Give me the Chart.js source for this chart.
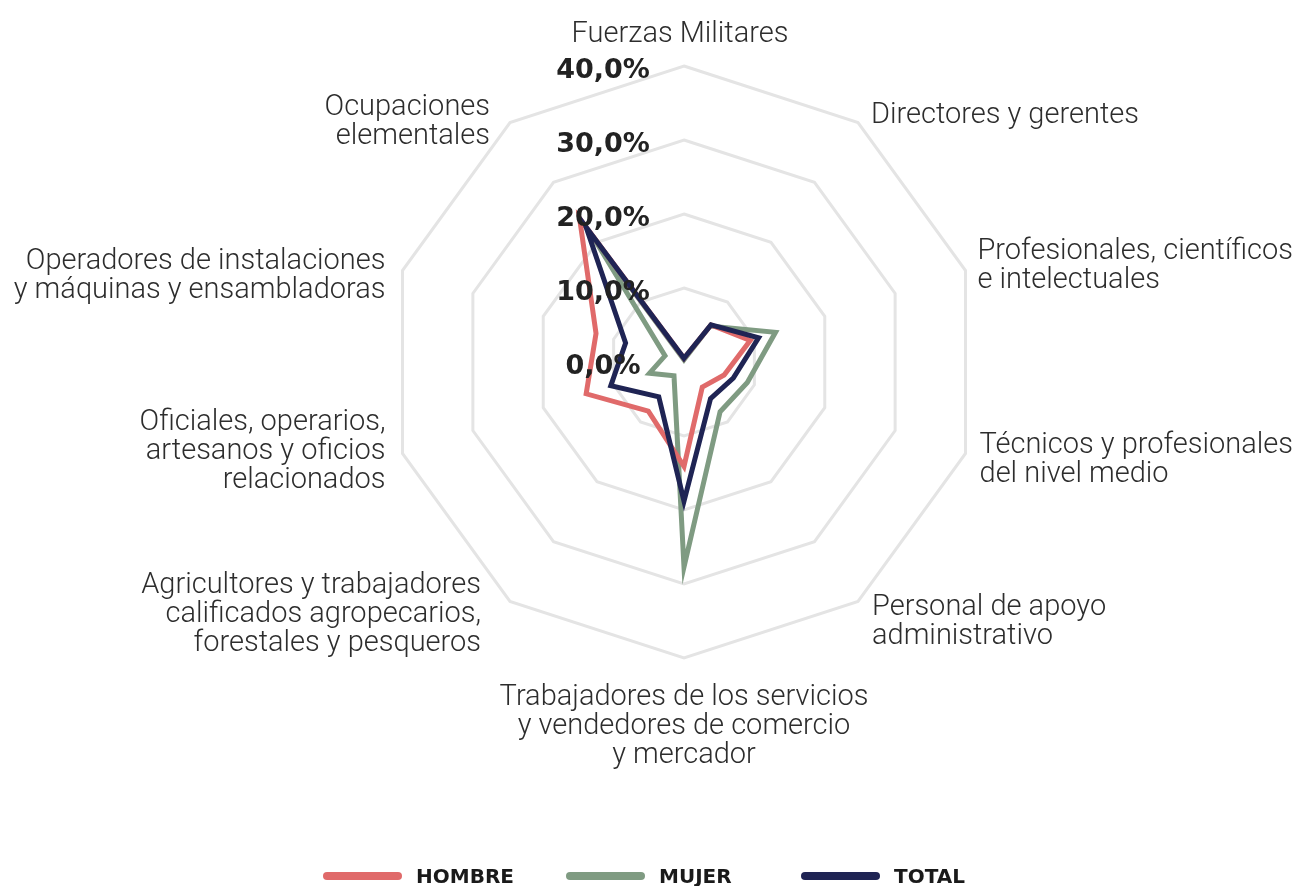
<!DOCTYPE html>
<html>
<head>
<meta charset="utf-8">
<script src="https://cdn.jsdelivr.net/npm/chart.js@4.4.1/dist/chart.umd.min.js"></script>
<style>
  html, body { margin: 0; padding: 0; background: #ffffff; }
  #wrap { width: 1299px; height: 886px; position: relative; }
</style>
</head>
<body>
<div id="wrap"><canvas id="chart" width="1299" height="886"></canvas></div>
<script>
// ---- data ----
const categories = [
  ['Fuerzas Militares'],
  ['Directores y gerentes'],
  ['Profesionales, científicos', 'e intelectuales'],
  ['Técnicos y profesionales', 'del nivel medio'],
  ['Personal de apoyo', 'administrativo'],
  ['Trabajadores de los servicios', 'y vendedores de comercio', 'y mercador'],
  ['Agricultores y trabajadores', 'calificados agropecarios,', 'forestales y pesqueros'],
  ['Oficiales, operarios,', 'artesanos y oficios', 'relacionados'],
  ['Operadores de instalaciones', 'y máquinas y ensambladoras'],
  ['Ocupaciones', 'elementales']
];
const seriesNames = ['HOMBRE', 'MUJER', 'TOTAL'];
const hombre = [0.5, 6.2, 9.4, 5.7, 4.2, 14.1, 8.2, 13.9, 12.5, 24.0];
const mujer  = [0.3, 6.0, 13.0, 9.0, 8.3, 27.7, 2.3, 4.9, 2.7, 21.0];
const total  = [0.5, 6.2, 10.6, 7.0, 6.1, 18.8, 5.8, 10.4, 8.3, 22.5];
const tickValues = [0, 10, 20, 30, 40];
const tickLabels = ['0,0%', '10,0%', '20,0%', '30,0%', '40,0%'];

// ---- styles / layout ----
const colors = ['#e06a6a', '#7f9b82', '#1f2454'];
const drawOrder = [1, 2, 0];
// per-label placement: align, dx, dy (first baseline) relative to outer vertex
const labelPlacement = [
  { align: 'center', dx: -4,  dy: -24 },
  { align: 'left',   dx: 13,  dy: 0 },
  { align: 'left',   dx: 12,  dy: -12 },
  { align: 'left',   dx: 14,  dy: 0 },
  { align: 'left',   dx: 14,  dy: 14 },
  { align: 'center', dx: 0,   dy: 47 },
  { align: 'right',  dx: -29, dy: -8 },
  { align: 'right',  dx: -17, dy: -23 },
  { align: 'right',  dx: -17, dy: -2 },
  { align: 'right',  dx: -20, dy: -8 }
];
const legendStarts = [327, 570, 805];

const pointLabelPlugin = {
  id: 'customLabels',
  afterDatasetsDraw(chart) {
    const s = chart.scales.r;
    const ctx = chart.ctx;
    ctx.save();
    // category labels
    ctx.font = '300 29px Roboto';
    ctx.fillStyle = '#2d2d2d';
    ctx.textBaseline = 'alphabetic';
    categories.forEach((lines, i) => {
      const p = s.getPointPosition(i, s.drawingArea);
      const pl = labelPlacement[i];
      ctx.textAlign = pl.align;
      lines.forEach((ln, j) => {
        ctx.fillText(ln, p.x + pl.dx, p.y + pl.dy + j * 29);
      });
    });
    // tick labels
    ctx.font = 'bold 27px "DejaVu Sans"';
    ctx.fillStyle = '#222222';
    ctx.textAlign = 'center';
    tickValues.forEach((v, i) => {
      const d = s.getDistanceFromCenterForValue(v);
      ctx.fillText(tickLabels[i], s.xCenter - 81, s.yCenter - d + 12);
    });
    // legend
    ctx.font = 'bold 20px "DejaVu Sans"';
    ctx.textAlign = 'left';
    ctx.lineCap = 'round';
    ctx.lineWidth = 8;
    chart.data.datasets.forEach((ds, i) => {
      const x0 = legendStarts[i];
      ctx.strokeStyle = ds.borderColor;
      ctx.beginPath();
      ctx.moveTo(x0, 876);
      ctx.lineTo(x0 + 71, 876);
      ctx.stroke();
      ctx.fillStyle = '#1a1a1a';
      ctx.fillText(ds.label, x0 + 71 + 18, 883);
    });
    ctx.restore();
  }
};

const seriesData = [hombre, mujer, total];
new Chart(document.getElementById('chart'), {
  type: 'radar',
  data: {
    labels: categories,
    datasets: seriesNames.map((name, i) => ({
      label: name,
      data: seriesData[i],
      borderColor: colors[i],
      backgroundColor: 'rgba(0,0,0,0)',
      borderWidth: 5,
      fill: false,
      pointRadius: 0,
      pointHoverRadius: 0,
      borderJoinStyle: 'miter',
      tension: 0,
      order: drawOrder[i]
    }))
  },
  options: {
    responsive: false,
    animation: false,
    devicePixelRatio: 1,
    layout: { padding: { left: 388, right: 318, top: 66, bottom: 227 } },
    plugins: { legend: { display: false }, tooltip: { enabled: false } },
    scales: {
      r: {
        min: 0,
        max: 40,
        ticks: { stepSize: 10, display: false },
        grid: { color: '#e4e4e4', lineWidth: 3 },
        angleLines: { display: false },
        pointLabels: { display: false }
      }
    }
  },
  plugins: [pointLabelPlugin]
});
</script>
</body>
</html>
